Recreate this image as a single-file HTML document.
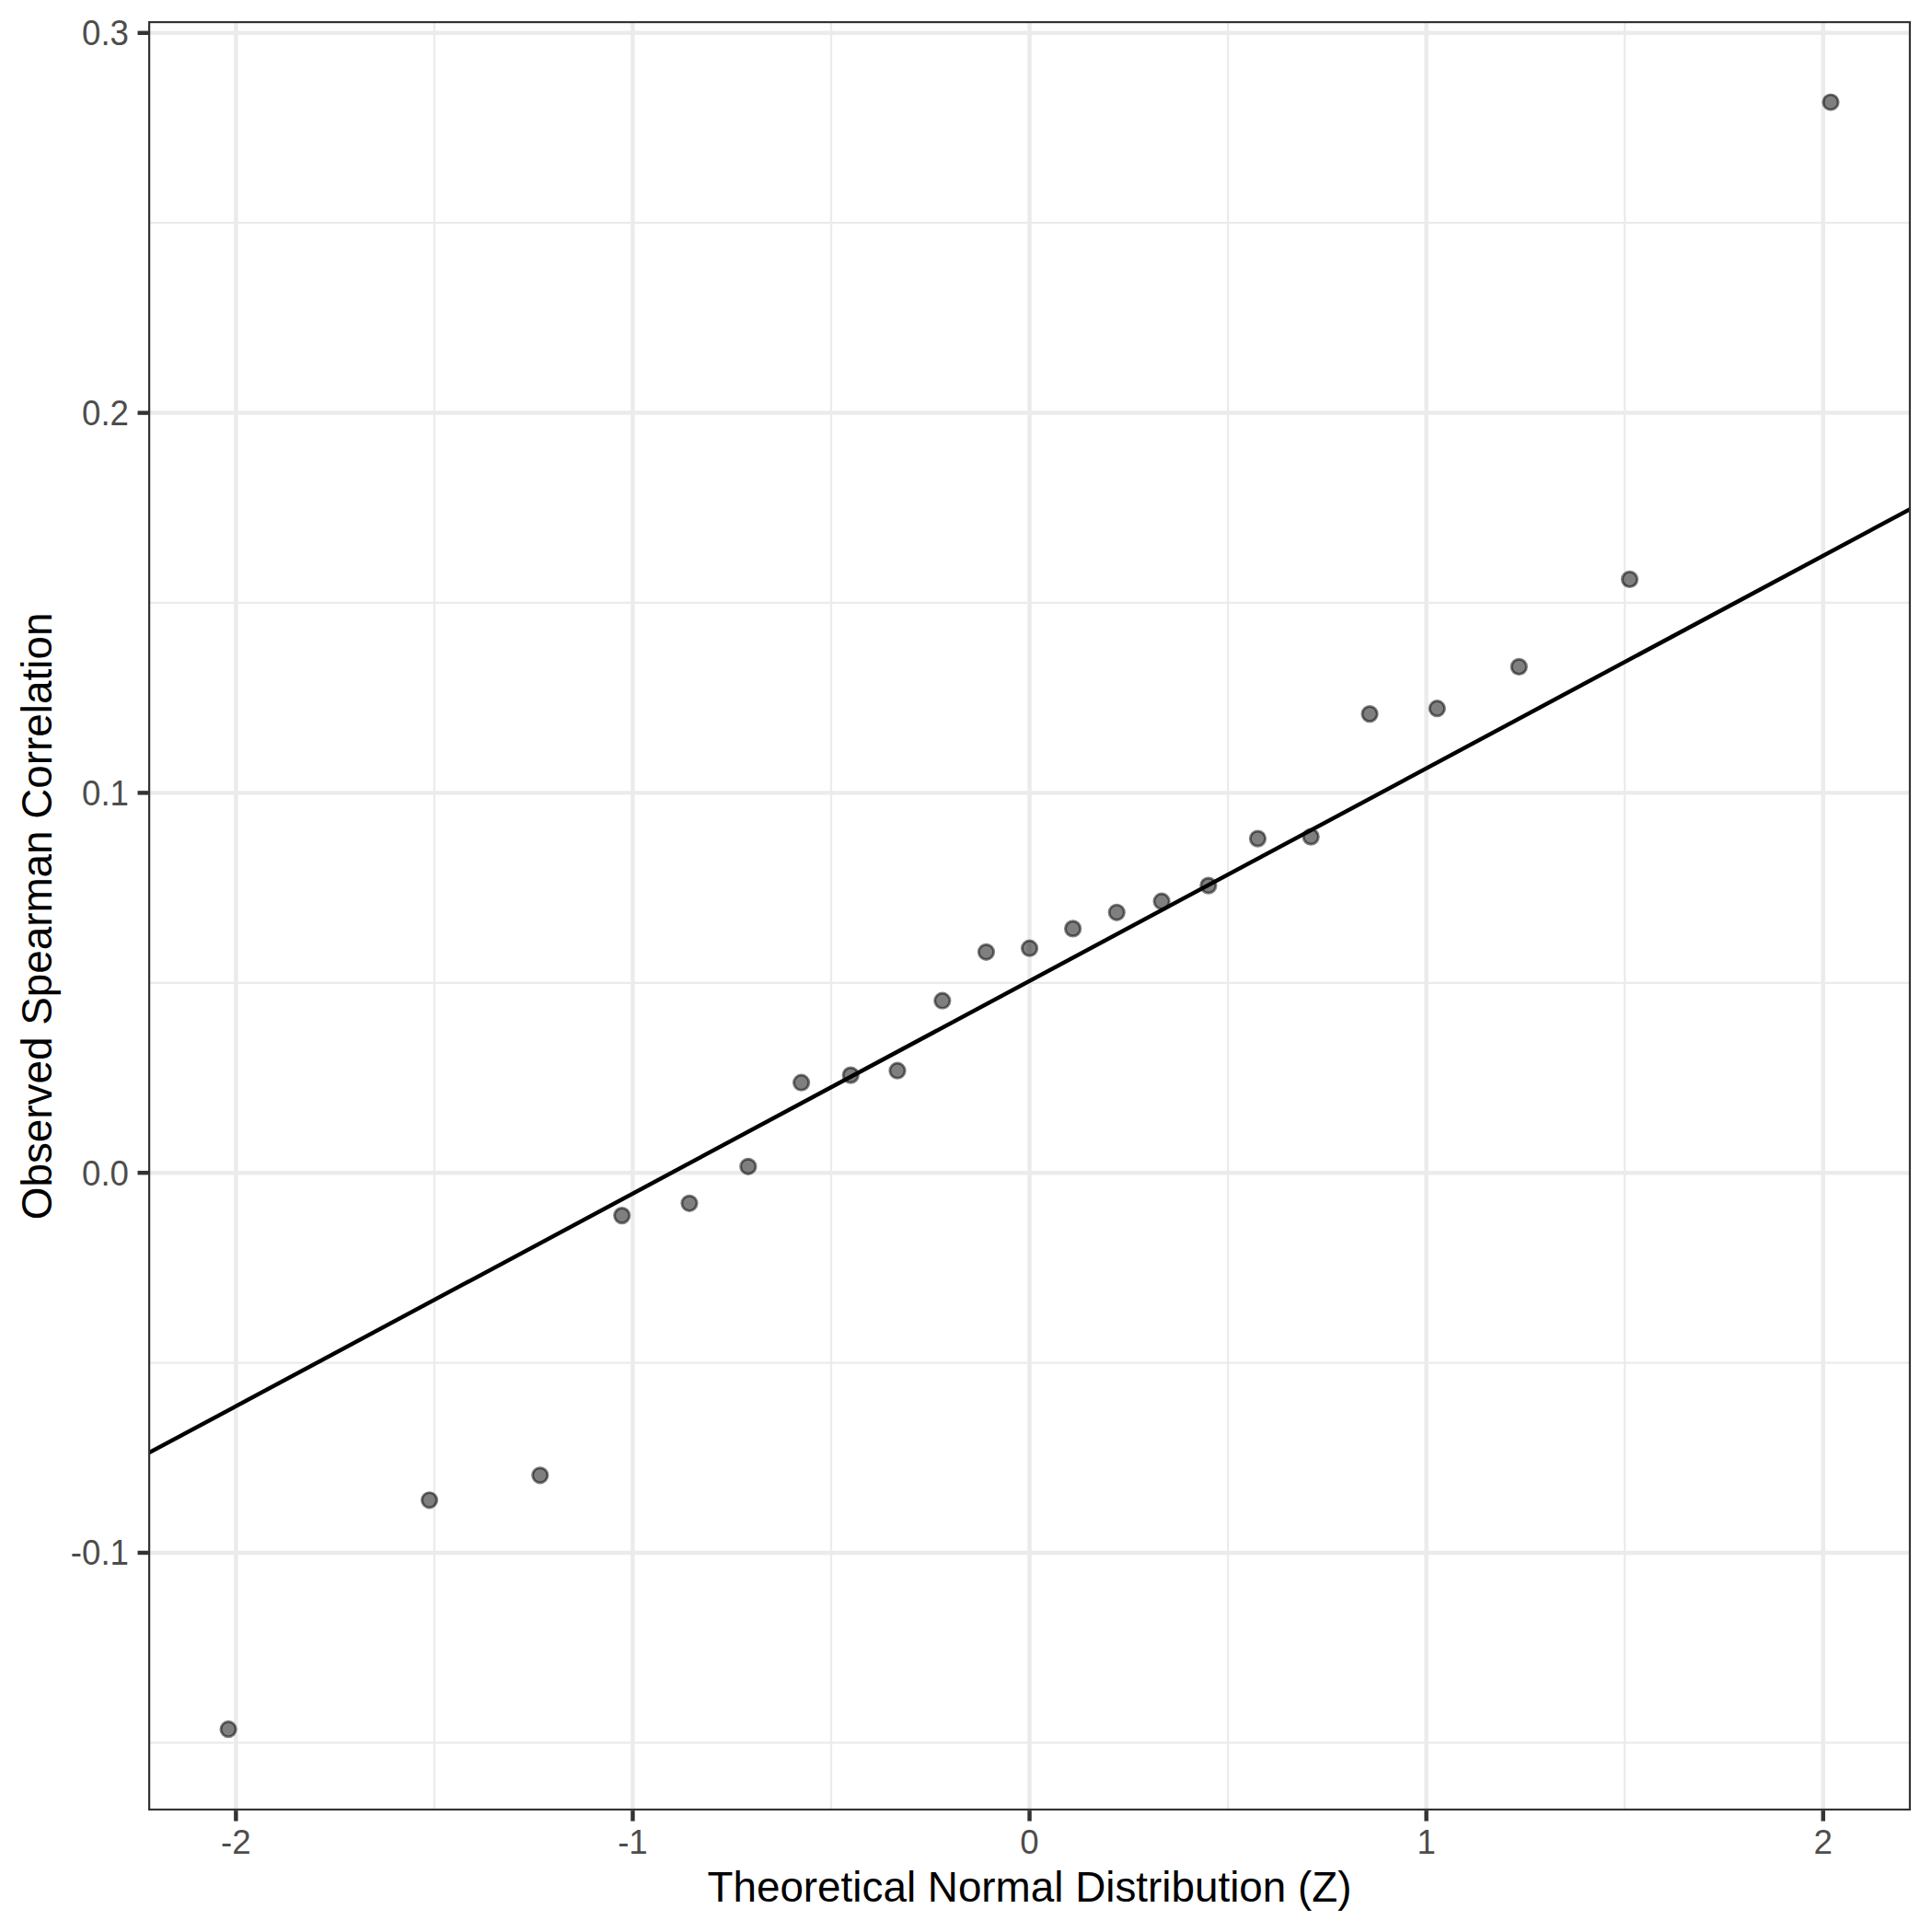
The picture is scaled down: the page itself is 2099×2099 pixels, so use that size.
<!DOCTYPE html>
<html lang="en"><head><meta charset="utf-8"><title>Normal Q-Q plot of observed Spearman correlations</title>
<style>html,body{margin:0;padding:0;background:#fff}svg{display:block}text{font-family:"Liberation Sans",sans-serif}.ax{font-size:36.67px;fill:#4d4d4d}.ti{font-size:45.83px;fill:#000}</style></head><body>
<svg width="2099" height="2099" viewBox="0 0 2099 2099">
<rect width="2099" height="2099" fill="#fff"/>
<defs><clipPath id="p"><rect x="161.00" y="22.92" width="1915.08" height="1944.18"/></clipPath></defs>
<g clip-path="url(#p)">
<g stroke="#ebebeb" stroke-width="2.22">
<line x1="161.00" x2="2076.08" y1="1893.38" y2="1893.38"/>
<line x1="161.00" x2="2076.08" y1="1480.58" y2="1480.58"/>
<line x1="161.00" x2="2076.08" y1="1067.78" y2="1067.78"/>
<line x1="161.00" x2="2076.08" y1="654.98" y2="654.98"/>
<line x1="161.00" x2="2076.08" y1="242.18" y2="242.18"/>
<line y1="22.92" y2="1967.10" x1="471.89" x2="471.89"/>
<line y1="22.92" y2="1967.10" x1="902.99" x2="902.99"/>
<line y1="22.92" y2="1967.10" x1="1334.09" x2="1334.09"/>
<line y1="22.92" y2="1967.10" x1="1765.19" x2="1765.19"/>
</g>
<g stroke="#ebebeb" stroke-width="4.45">
<line x1="161.00" x2="2076.08" y1="1686.98" y2="1686.98"/>
<line x1="161.00" x2="2076.08" y1="1274.18" y2="1274.18"/>
<line x1="161.00" x2="2076.08" y1="861.38" y2="861.38"/>
<line x1="161.00" x2="2076.08" y1="448.58" y2="448.58"/>
<line x1="161.00" x2="2076.08" y1="35.78" y2="35.78"/>
<line y1="22.92" y2="1967.10" x1="256.34" x2="256.34"/>
<line y1="22.92" y2="1967.10" x1="687.44" x2="687.44"/>
<line y1="22.92" y2="1967.10" x1="1118.54" x2="1118.54"/>
<line y1="22.92" y2="1967.10" x1="1549.64" x2="1549.64"/>
<line y1="22.92" y2="1967.10" x1="1980.74" x2="1980.74"/>
</g>
<g fill="#000" fill-opacity="0.5" stroke="#000" stroke-opacity="0.5" stroke-width="2.95">
<circle cx="248.11" cy="1878.70" r="8.15"/>
<circle cx="466.55" cy="1629.75" r="8.15"/>
<circle cx="586.78" cy="1602.80" r="8.15"/>
<circle cx="675.73" cy="1320.60" r="8.15"/>
<circle cx="748.98" cy="1307.30" r="8.15"/>
<circle cx="812.85" cy="1267.30" r="8.15"/>
<circle cx="870.61" cy="1176.20" r="8.15"/>
<circle cx="924.22" cy="1168.10" r="8.15"/>
<circle cx="974.98" cy="1163.20" r="8.15"/>
<circle cx="1023.82" cy="1087.20" r="8.15"/>
<circle cx="1071.46" cy="1034.30" r="8.15"/>
<circle cx="1118.54" cy="1030.20" r="8.15"/>
<circle cx="1165.62" cy="1008.90" r="8.15"/>
<circle cx="1213.26" cy="991.30" r="8.15"/>
<circle cx="1262.10" cy="979.20" r="8.15"/>
<circle cx="1312.86" cy="962.10" r="8.15"/>
<circle cx="1366.47" cy="911.10" r="8.15"/>
<circle cx="1424.23" cy="909.10" r="8.15"/>
<circle cx="1488.10" cy="775.65" r="8.15"/>
<circle cx="1561.35" cy="769.70" r="8.15"/>
<circle cx="1650.30" cy="724.40" r="8.15"/>
<circle cx="1770.53" cy="629.40" r="8.15"/>
<circle cx="1988.97" cy="111.00" r="8.15"/>
</g>
<line x1="151.00" y1="1584.20" x2="2086.08" y2="547.29" stroke="#000" stroke-width="4.45"/>
<rect x="161.00" y="22.92" width="1915.08" height="1944.18" fill="none" stroke="#333333" stroke-width="4.45"/>
</g>
<g stroke="#333333" stroke-width="4.45">
<line x1="149.54" x2="161.00" y1="1686.98" y2="1686.98"/>
<line x1="149.54" x2="161.00" y1="1274.18" y2="1274.18"/>
<line x1="149.54" x2="161.00" y1="861.38" y2="861.38"/>
<line x1="149.54" x2="161.00" y1="448.58" y2="448.58"/>
<line x1="149.54" x2="161.00" y1="35.78" y2="35.78"/>
<line y1="1967.10" y2="1978.56" x1="256.34" x2="256.34"/>
<line y1="1967.10" y2="1978.56" x1="687.44" x2="687.44"/>
<line y1="1967.10" y2="1978.56" x1="1118.54" x2="1118.54"/>
<line y1="1967.10" y2="1978.56" x1="1549.64" x2="1549.64"/>
<line y1="1967.10" y2="1978.56" x1="1980.74" x2="1980.74"/>
</g>
<text class="ax" text-anchor="end" transform="translate(140.0 1700.48) scale(1 1.04)">-0.1</text>
<text class="ax" text-anchor="end" transform="translate(140.0 1287.68) scale(1 1.04)">0.0</text>
<text class="ax" text-anchor="end" transform="translate(140.0 874.88) scale(1 1.04)">0.1</text>
<text class="ax" text-anchor="end" transform="translate(140.0 462.08) scale(1 1.04)">0.2</text>
<text class="ax" text-anchor="end" transform="translate(140.0 49.28) scale(1 1.04)">0.3</text>
<text class="ax" text-anchor="middle" transform="translate(256.34 2014.0) scale(1 1.03)">-2</text>
<text class="ax" text-anchor="middle" transform="translate(687.44 2014.0) scale(1 1.03)">-1</text>
<text class="ax" text-anchor="middle" transform="translate(1118.54 2014.0) scale(1 1.03)">0</text>
<text class="ax" text-anchor="middle" transform="translate(1549.64 2014.0) scale(1 1.03)">1</text>
<text class="ax" text-anchor="middle" transform="translate(1980.74 2014.0) scale(1 1.03)">2</text>
<text class="ti" text-anchor="middle" transform="translate(1118.5 2066.0) scale(1 1.025)">Theoretical Normal Distribution (Z)</text>
<text class="ti" text-anchor="middle" transform="translate(55.9 995.4) rotate(-90) scale(1 1.025)">Observed Spearman Correlation</text>
</svg></body></html>
